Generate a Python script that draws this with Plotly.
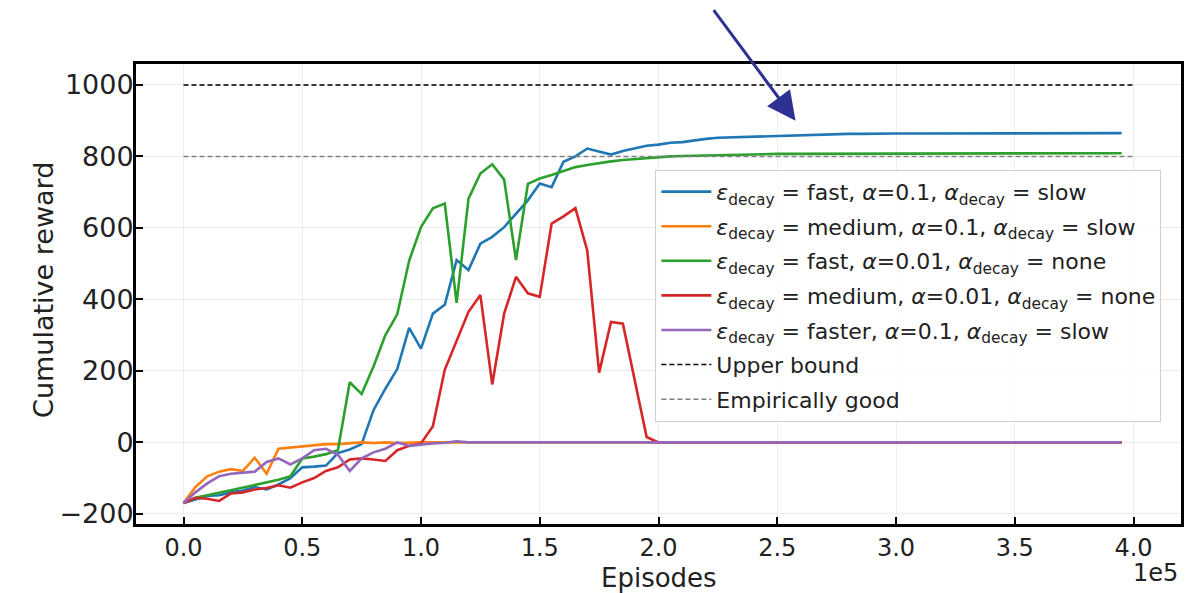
import plotly.graph_objects as go

episodes = [i * 5000 for i in range(80)]

blue_fast_01_slow = [
    -170, -160, -150, -148, -140, -135, -125, -132, -118, -100,
    -70, -68, -65, -30, -20, -5, 90, 150, 205, 320,
    262, 360, 385, 510, 482, 556, 575, 602, 640, 677,
    724, 714, 785, 800, 822, 813, 805, 815, 822, 830,
    833, 838, 840, 845, 849, 852, 853, 855, 856, 858,
    859, 860, 861, 862, 862, 863, 863, 863, 864, 864,
    864, 864, 864, 864, 864, 865, 865, 865, 865, 865,
    865, 865, 865, 865, 865, 865, 865, 865, 865, 865,
]
orange_medium_01_slow = [
    -170, -125, -95, -82, -75, -80, -43, -88, -18, -15,
    -12, -8, -5, -5, -2, 0, -2, 0, -2, 0,
] + [0] * 60
green_fast_001_none = [
    -170, -155, -148, -141, -132, -126, -118, -112, -105, -95,
    -45, -40, -33, -22, 168, 135, 212, 300, 358, 508,
    602, 655, 668, 390, 682, 752, 778, 735, 510, 723,
    738, 748, 760, 770, 776, 782, 786, 790, 793, 795,
    797, 800, 801, 802, 803, 804, 805, 805, 806, 806,
    807, 807, 807, 807, 808, 808, 808, 808, 808, 808,
    808, 808, 809, 809, 809, 809, 809, 809, 809, 809,
    809, 809, 809, 809, 809, 809, 809, 809, 809, 809,
]
red_medium_001_none = [
    -170, -155, -158, -164, -143, -140, -132, -128, -120, -127,
    -112, -100, -80, -70, -48, -45, -48, -52, -22, -10,
    -3, 45, 203, 286, 365, 412, 162, 360, 463, 417,
    407, 612, 632, 655, 537, 195, 337, 332, 175, 15,
    0,
] + [0] * 39
purple_faster_01_slow = [
    -170, -140, -115, -95, -88, -85, -82, -55, -45, -62,
    -45, -22, -18, -35, -80, -45, -28, -18, 0, -10,
    -6, -3, -1, 3, 0,
] + [0] * 55

bound_x = [0, 400000]
upper_bound = [1000, 1000]
empirically_good = [800, 800]

x_ticks = [0, 50000, 100000, 150000, 200000, 250000, 300000, 350000, 400000]
x_tick_labels = ["0.0", "0.5", "1.0", "1.5", "2.0", "2.5", "3.0", "3.5", "4.0"]
y_ticks = [-200, 0, 200, 400, 600, 800, 1000]

series = [
    ("<i>ε</i><sub>decay</sub> = fast, <i>α</i>=0.1, <i>α</i><sub>decay</sub> = slow", blue_fast_01_slow, "#1f77b4"),
    ("<i>ε</i><sub>decay</sub> = medium, <i>α</i>=0.1, <i>α</i><sub>decay</sub> = slow", orange_medium_01_slow, "#ff7f0e"),
    ("<i>ε</i><sub>decay</sub> = fast, <i>α</i>=0.01, <i>α</i><sub>decay</sub> = none", green_fast_001_none, "#2ca02c"),
    ("<i>ε</i><sub>decay</sub> = medium, <i>α</i>=0.01, <i>α</i><sub>decay</sub> = none", red_medium_001_none, "#d62728"),
    ("<i>ε</i><sub>decay</sub> = faster, <i>α</i>=0.1, <i>α</i><sub>decay</sub> = slow", purple_faster_01_slow, "#9467bd"),
]

fig = go.Figure()
for k, (name, vals, col) in enumerate(series):
    fig.add_trace(go.Scatter(x=episodes, y=vals, mode="lines", name=name,
                             legendgroup="g%d" % k,
                             line=dict(color=col, width=2.6)))

fig.add_trace(go.Scatter(x=bound_x, y=upper_bound, mode="lines", name="Upper bound",
                         legendgroup="g5",
                         line=dict(color="black", width=1.5, dash="5px,3px")))
fig.add_trace(go.Scatter(x=bound_x, y=empirically_good, mode="lines", name="Empirically good",
                         legendgroup="g6",
                         line=dict(color="gray", width=1.5, dash="5px,3px")))

font_family = "DejaVu Sans"

fig.update_layout(
    width=1198, height=593,
    margin=dict(l=136, r=17, t=64, b=69, autoexpand=False),
    paper_bgcolor="white", plot_bgcolor="white",
    font=dict(family=font_family, size=22, color="#222"),
    showlegend=True,
    legend=dict(x=0.497, y=0.77, xanchor="left", yanchor="top",
                bgcolor="rgba(255,255,255,0.85)", bordercolor="#d0d0d0", borderwidth=1,
                font=dict(family=font_family, size=22, color="#222"),
                itemwidth=50, tracegroupgap=3),
)

fig.update_xaxes(
    range=[-20000, 420000],
    tickvals=x_ticks, ticktext=x_tick_labels,
    ticks="inside", ticklen=7, tickwidth=2, tickcolor="black",
    showline=True, linewidth=3, linecolor="black", mirror=True,
    showgrid=True, gridcolor="#ececec", gridwidth=1,
    zeroline=False, automargin=False,
    tickfont=dict(size=24),
)
fig.update_yaxes(
    range=[-228.5, 1058.5],
    tickvals=y_ticks,
    ticks="inside", ticklen=7, tickwidth=2, tickcolor="black",
    showline=True, linewidth=3, linecolor="black", mirror=True,
    showgrid=True, gridcolor="#ececec", gridwidth=1,
    zeroline=False, automargin=False,
    tickfont=dict(size=27), ticklabelstandoff=-6,
)

# axis titles and offset text as annotations for exact placement
fig.add_annotation(xref="paper", yref="paper", x=0.5, y=-0.117, text="Episodes",
                   showarrow=False, xanchor="center", yanchor="middle",
                   font=dict(size=26, family=font_family, color="#222"))
fig.add_annotation(xref="paper", yref="paper", x=-0.088, y=0.509, text="Cumulative reward",
                   showarrow=False, xanchor="center", yanchor="middle", textangle=-90,
                   font=dict(size=27, family=font_family, color="#222"))
fig.add_annotation(xref="paper", yref="paper", x=0.999, y=-0.1065, text="1e5",
                   showarrow=False, xanchor="right", yanchor="middle",
                   font=dict(size=24, family=font_family, color="#222"))

fig.add_annotation(x=257700, y=900, xref="x", yref="y", text="",
                   showarrow=True, arrowhead=2, arrowsize=1.9, arrowwidth=3,
                   arrowcolor="#2e3192", ax=-83, ay=-112)

fig.write_html(
    "out.html",
    config={"displayModeBar": False},
    post_script="document.body.style.margin='0';document.body.style.overflow='hidden';",
)
